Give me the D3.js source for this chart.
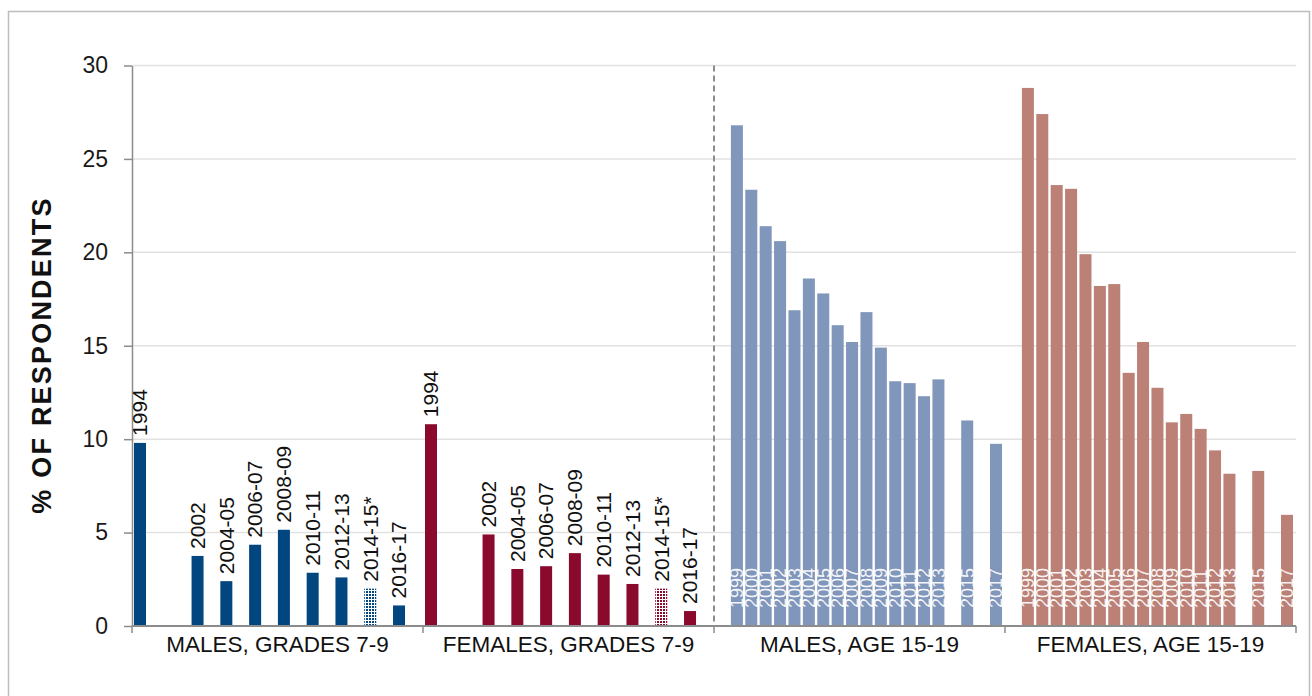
<!DOCTYPE html>
<html>
<head>
<meta charset="utf-8">
<script src="https://cdn.jsdelivr.net/npm/d3@7"></script>
<style>
  html, body { margin: 0; padding: 0; background: #fff; }
  svg { display: block; font-family: "Liberation Sans", Arial, sans-serif; }
</style>
</head>
<body>
<svg id="chart" width="1312" height="696"></svg>
<script>
// ---- data ----
const groupNames = ["MALES, GRADES 7-9", "FEMALES, GRADES 7-9", "MALES, AGE 15-19", "FEMALES, AGE 15-19"];
const gradeSlots = ["1994", "(none)", "2002", "2004-05", "2006-07", "2008-09", "2010-11", "2012-13", "2014-15*", "2016-17"];
const gradeLabels = ["1994", "2002", "2004-05", "2006-07", "2008-09", "2010-11", "2012-13", "2014-15*", "2016-17"];
const maleGradeValues = [9.8, 3.75, 2.4, 4.35, 5.15, 2.85, 2.6, 2.0, 1.1];
const femaleGradeValues = [10.8, 4.9, 3.05, 3.2, 3.9, 2.75, 2.25, 2.0, 0.8];
const ageSlots = ["1999","2000","2001","2002","2003","2004","2005","2006","2007","2008","2009","2010","2011","2012","2013","2014","2015","2016","2017"];
const ageLabels = ["1999","2000","2001","2002","2003","2004","2005","2006","2007","2008","2009","2010","2011","2012","2013","2015","2017"];
const maleAgeValues = [26.8, 23.35, 21.4, 20.6, 16.9, 18.6, 17.8, 16.1, 15.2, 16.8, 14.9, 13.1, 13.0, 12.3, 13.2, 11.0, 9.75];
const femaleAgeValues = [28.8, 27.4, 23.6, 23.4, 19.9, 18.2, 18.3, 13.55, 15.2, 12.75, 10.9, 11.35, 10.55, 9.4, 8.15, 8.3, 5.95];
const yTicks = [0, 5, 10, 15, 20, 25, 30];
const yTitle = "% OF RESPONDENTS";
const colors = ["#02467f", "#8a0a2d", "#8196bb", "#bb8076"];

// ---- layout ----
const svg = d3.select("#chart");
const plot = { left: 132, right: 1296, top: 65.5, bottom: 626 };

svg.append("rect")
  .attr("x", 8.5).attr("y", 11.5).attr("width", 1301).attr("height", 720)
  .attr("fill", "none").attr("stroke", "#bdbdbd").attr("stroke-width", 1.5);

const y = d3.scaleLinear().domain([0, 30]).range([plot.bottom, plot.top]);
const x0 = d3.scaleBand().domain(groupNames).range([plot.left, plot.right]);
const gw = x0.bandwidth();
const xGrade = d3.scaleBand().domain(gradeSlots).range([0, gw])
  .paddingInner(0.583).paddingOuter(0.347).align(0.1);
const xAge = d3.scaleBand().domain(ageSlots).range([0, gw])
  .paddingInner(0.166).paddingOuter(0.69).align(0.85);

// patterns for the asterisked bars
const defs = svg.append("defs");
colors.slice(0, 2).forEach((c, i) => {
  const p = defs.append("pattern").attr("id", "dots" + i)
    .attr("patternUnits", "userSpaceOnUse").attr("width", 3).attr("height", 3);
  p.append("rect").attr("width", 3).attr("height", 3).attr("fill", "#fff");
  p.append("rect").attr("width", 2).attr("height", 2).attr("fill", c);
});

// gridlines
svg.append("g").selectAll("line").data(yTicks.filter(d => d > 0)).join("line")
  .attr("x1", plot.left).attr("x2", plot.right)
  .attr("y1", d => y(d)).attr("y2", d => y(d))
  .attr("stroke", "#e2e2e2").attr("stroke-width", 1.5);

// y axis
const yAxis = svg.append("g").attr("transform", `translate(${plot.left},0)`)
  .call(d3.axisLeft(y).tickValues(yTicks).tickSize(8).tickPadding(16).tickSizeOuter(0));
yAxis.select(".domain").attr("stroke", "#8c8c8c").attr("stroke-width", 1.5);
yAxis.selectAll(".tick line").attr("stroke", "#8c8c8c").attr("stroke-width", 1.5);
yAxis.selectAll(".tick text").attr("font-size", 23).attr("fill", "#1a1a1a")
  .attr("font-family", "'Liberation Sans', Arial, sans-serif");

// y title
svg.append("text")
  .attr("transform", "translate(42,355) rotate(-90)")
  .attr("text-anchor", "middle").attr("dy", "0.35em")
  .attr("font-size", 27).attr("font-weight", "bold").attr("letter-spacing", 2.2)
  .attr("fill", "#111").text(yTitle);

// dashed divider
svg.append("line")
  .attr("x1", x0(groupNames[2])).attr("x2", x0(groupNames[2]))
  .attr("y1", plot.top).attr("y2", plot.bottom)
  .attr("stroke", "#8c8c8c").attr("stroke-width", 2).attr("stroke-dasharray", "6,4");

// grade groups
function drawGrade(gi, values) {
  const g = svg.append("g").attr("transform", `translate(${x0(groupNames[gi])},0)`);
  const data = gradeLabels.map((k, i) => ({ k, v: values[i] }));
  g.selectAll("rect").data(data).join("rect")
    .attr("x", d => xGrade(d.k)).attr("width", xGrade.bandwidth())
    .attr("y", d => y(d.v)).attr("height", d => y(0) - y(d.v))
    .attr("fill", d => d.k.includes("*") ? `url(#dots${gi})` : colors[gi]);
  g.selectAll("text").data(data).join("text")
    .attr("transform", d => `translate(${xGrade(d.k) + xGrade.bandwidth() / 2},${y(d.v) - 7}) rotate(-90)`)
    .attr("dy", "0.35em").attr("font-size", 21).attr("fill", "#111")
    .text(d => d.k);
}
drawGrade(0, maleGradeValues);
drawGrade(1, femaleGradeValues);

// age groups
function drawAge(gi, values) {
  const g = svg.append("g").attr("transform", `translate(${x0(groupNames[gi])},0)`);
  const data = ageLabels.map((k, i) => ({ k, v: values[i] }));
  g.selectAll("rect").data(data).join("rect")
    .attr("x", d => xAge(d.k)).attr("width", xAge.bandwidth())
    .attr("y", d => y(d.v)).attr("height", d => y(0) - y(d.v))
    .attr("fill", colors[gi]);
  g.selectAll("text").data(data).join("text")
    .attr("transform", d => `translate(${xAge(d.k) + xAge.bandwidth() / 2},${y(0) - 18}) rotate(-90)`)
    .attr("dy", "0.35em").attr("font-size", 18).attr("fill", "#fff").attr("fill-opacity", 0.92)
    .text(d => d.k);
}
drawAge(2, maleAgeValues);
drawAge(3, femaleAgeValues);

// x axis baseline and group ticks
const xAxis = svg.append("g").attr("transform", `translate(0,${plot.bottom})`);
xAxis.append("line").attr("x1", plot.left).attr("x2", plot.right)
  .attr("stroke", "#8c8c8c").attr("stroke-width", 2);
const bounds = groupNames.map(n => x0(n)).concat([plot.right]);
xAxis.selectAll("line.gt").data(bounds).join("line").attr("class", "gt")
  .attr("x1", d => d).attr("x2", d => d).attr("y1", 0).attr("y2", 7)
  .attr("stroke", "#8c8c8c").attr("stroke-width", 1.5);
xAxis.selectAll("text").data(groupNames).join("text")
  .attr("x", d => x0(d) + gw / 2).attr("y", 26)
  .attr("text-anchor", "middle").attr("font-size", 22.5).attr("fill", "#111")
  .text(d => d);
</script>
</body>
</html>
